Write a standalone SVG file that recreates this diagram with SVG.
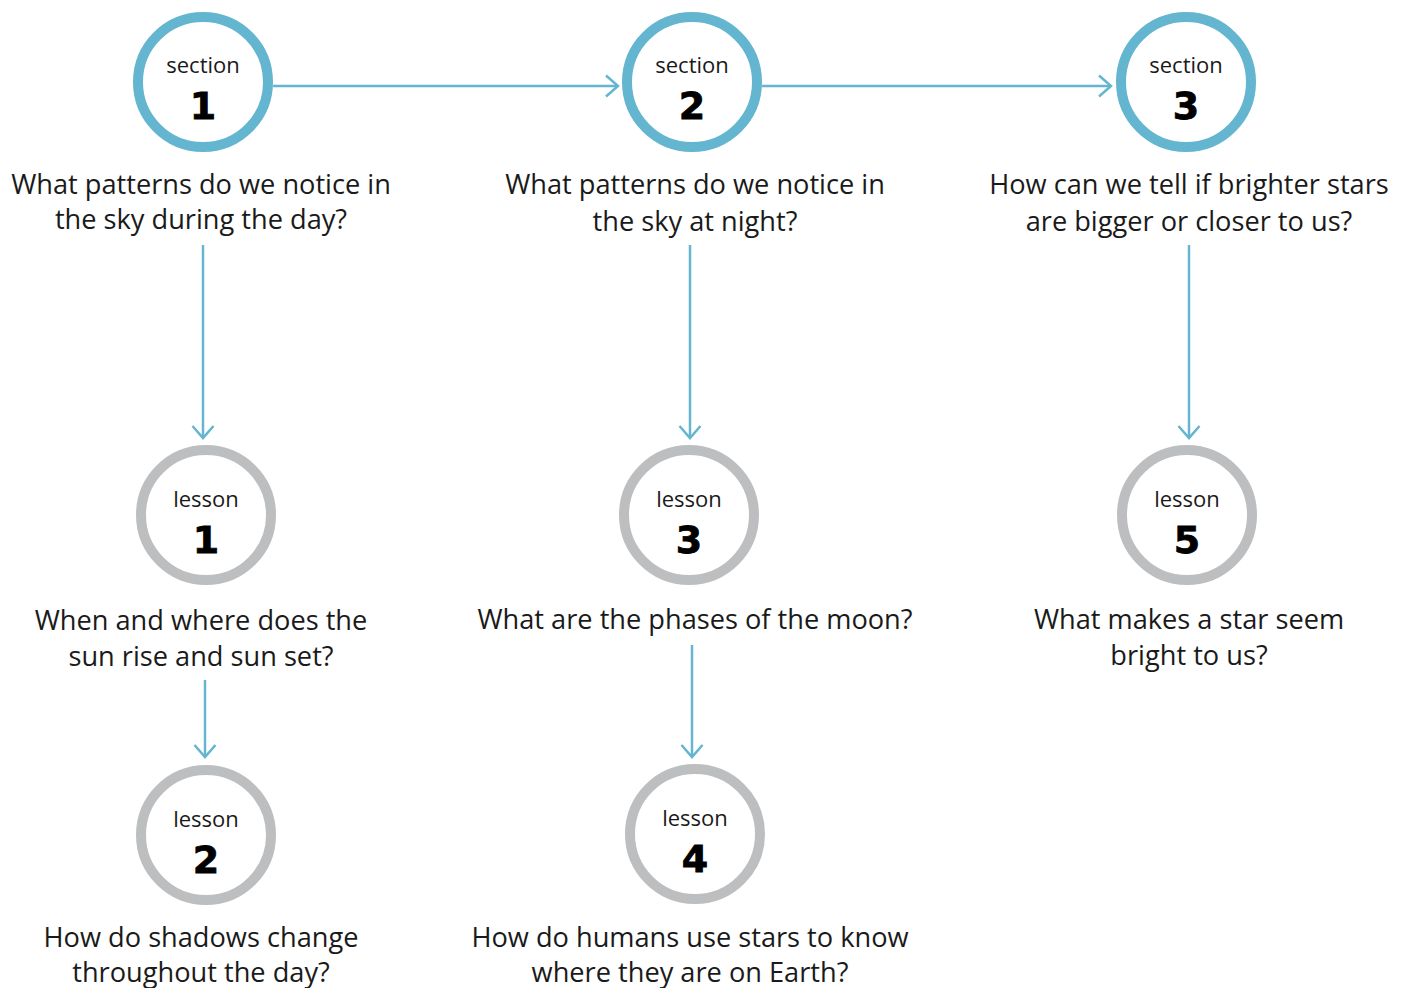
<svg xmlns="http://www.w3.org/2000/svg" width="1408" height="988" viewBox="0 0 1408 988">
<defs>
<style>
.sec{fill:#fff;stroke:#64b5cf;stroke-width:10}
.les{fill:#fff;stroke:#bdbec0;stroke-width:10}
.lbl{font-family:"Open Sans","DejaVu Sans",sans-serif;font-size:22px;fill:#1a1a1a;text-anchor:middle}
.num{font-family:"DejaVu Sans",sans-serif;font-weight:bold;font-size:38px;fill:#000;stroke:#000;stroke-width:0.8;text-anchor:middle}
.q{font-family:"Open Sans","DejaVu Sans",sans-serif;font-size:27.2px;fill:#1a1a1a;text-anchor:middle}
.c{stroke:#64b5cf;stroke-width:2.5;fill:none;marker-end:url(#ah)}
</style>
<marker id="ah" viewBox="0 0 16 24" refX="14" refY="12" markerWidth="16" markerHeight="24" markerUnits="userSpaceOnUse" orient="auto">
<polyline points="2,1.5 14,12 2,22.5" fill="none" stroke="#64b5cf" stroke-width="2.5"/>
</marker>
</defs>
<rect width="1408" height="988" fill="#fff"/>
<g id="connectors">
<line class="c" x1="273" y1="86" x2="618" y2="86"/>
<line class="c" x1="762" y1="86" x2="1111" y2="86"/>
<line class="c" x1="203" y1="245" x2="203" y2="438"/>
<line class="c" x1="690" y1="245" x2="690" y2="438"/>
<line class="c" x1="1189" y1="245" x2="1189" y2="438"/>
<line class="c" x1="205" y1="680" x2="205" y2="757"/>
<line class="c" x1="692" y1="645" x2="692" y2="757"/>
</g>
<g id="section1">
<circle class="sec" cx="203" cy="82" r="65"/>
<text class="lbl" x="203" y="73">section</text>
<text class="num" x="203" y="119">1</text>
<text class="q" x="201" y="194">What patterns do we notice in</text>
<text class="q" x="201" y="229">the sky during the day?</text>
</g>
<g id="section2">
<circle class="sec" cx="692" cy="82" r="65"/>
<text class="lbl" x="692" y="73">section</text>
<text class="num" x="692" y="119">2</text>
<text class="q" x="695" y="194">What patterns do we notice in</text>
<text class="q" x="695" y="231">the sky at night?</text>
</g>
<g id="section3">
<circle class="sec" cx="1186" cy="82" r="65"/>
<text class="lbl" x="1186" y="73">section</text>
<text class="num" x="1186" y="119">3</text>
<text class="q" x="1189" y="194">How can we tell if brighter stars</text>
<text class="q" x="1189" y="231">are bigger or closer to us?</text>
</g>
<g id="lesson1">
<circle class="les" cx="206" cy="515" r="65"/>
<text class="lbl" x="206" y="507">lesson</text>
<text class="num" x="206" y="553">1</text>
<text class="q" x="201" y="630">When and where does the</text>
<text class="q" x="201" y="666">sun rise and sun set?</text>
</g>
<g id="lesson3">
<circle class="les" cx="689" cy="515" r="65"/>
<text class="lbl" x="689" y="507">lesson</text>
<text class="num" x="689" y="553">3</text>
<text class="q" x="695" y="629">What are the phases of the moon?</text>
</g>
<g id="lesson5">
<circle class="les" cx="1187" cy="515" r="65"/>
<text class="lbl" x="1187" y="507">lesson</text>
<text class="num" x="1187" y="553">5</text>
<text class="q" x="1189" y="629">What makes a star seem</text>
<text class="q" x="1189" y="665">bright to us?</text>
</g>
<g id="lesson2">
<circle class="les" cx="206" cy="835" r="65"/>
<text class="lbl" x="206" y="827">lesson</text>
<text class="num" x="206" y="873">2</text>
<text class="q" x="201" y="947">How do shadows change</text>
<text class="q" x="201" y="982">throughout the day?</text>
</g>
<g id="lesson4">
<circle class="les" cx="695" cy="834" r="65"/>
<text class="lbl" x="695" y="826">lesson</text>
<text class="num" x="695" y="872">4</text>
<text class="q" x="690" y="947">How do humans use stars to know</text>
<text class="q" x="690" y="982">where they are on Earth?</text>
</g>
</svg>
